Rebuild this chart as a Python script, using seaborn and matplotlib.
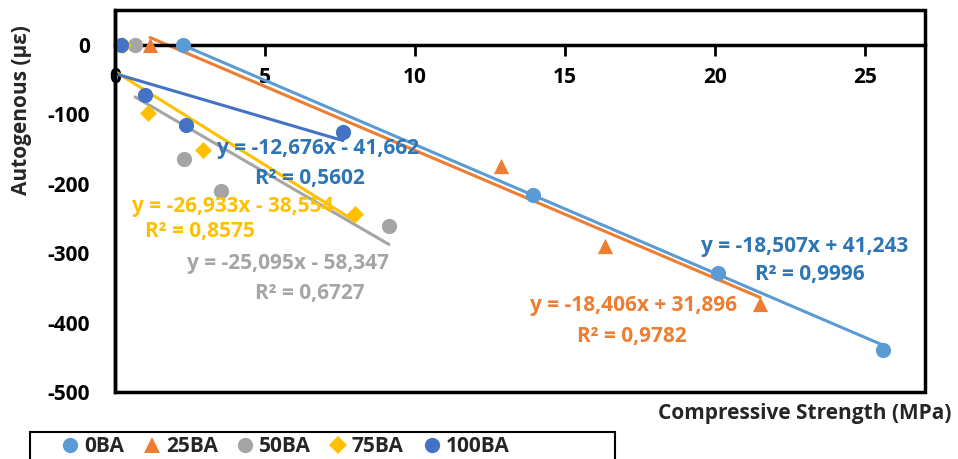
import numpy as np
import matplotlib
matplotlib.use("Agg")
import matplotlib.pyplot as plt
from matplotlib.patches import Rectangle
from matplotlib.lines import Line2D
import seaborn as sns
import pandas as pd

sns.set_theme(style="white")
plt.rcParams["font.family"] = ["Open Sans", "DejaVu Sans"]
plt.rcParams["font.weight"] = "bold"
plt.rcParams["axes.unicode_minus"] = False

# Compressive strength (MPa) and autogenous strain (µε) per mix
series_names = ["0BA", "25BA", "50BA", "75BA", "100BA"]
strength_0ba = [2.27, 13.93, 20.1, 25.6]
strain_0ba = [0, -217, -328, -440]
strength_25ba = [1.17, 12.87, 16.33, 21.5]
strain_25ba = [0, -174, -290, -374]
strength_50ba = [0.67, 2.3, 3.53, 9.13]
strain_50ba = [0, -164, -210, -261]
strength_75ba = [0.25, 1.1, 2.93, 8.0]
strain_75ba = [0, -98, -152, -243]
strength_100ba = [0.2, 1.0, 2.37, 7.6]
strain_100ba = [0, -73, -116, -125]

# Linear trendline coefficients (slope, intercept) and R²
slopes = [-18.507, -18.406, -25.095, -26.933, -12.676]
intercepts = [41.243, 31.896, -58.347, -38.554, -41.662]
r_squared = [0.9996, 0.9782, 0.6727, 0.8575, 0.5602]

xs = [strength_0ba, strength_25ba, strength_50ba, strength_75ba, strength_100ba]
ys = [strain_0ba, strain_25ba, strain_50ba, strain_75ba, strain_100ba]

colors = ["#5B9BD5", "#ED7D31", "#A5A5A5", "#FFC000", "#4472C4"]
text_colors = ["#2E75B6", "#ED7D31", "#A5A5A5", "#FFC000", "#2E75B6"]
markers = ["o", "^", "o", "D", "o"]
sizes = [120, 120, 120, 75, 120]
trend_x0 = [None, None, None, 0.07, 0.0]

# label anchor positions in data coords (equation line, R² line)
eq_pos = [(23.0, -290), (17.27, -376), (5.77, -315), (3.93, -233), (6.77, -149)]
r2_pos = [(23.17, -331), (17.23, -420), (6.5, -358), (2.83, -269), (6.5, -193)]

fig = plt.figure(figsize=(9.58, 4.59), dpi=100)
ax = fig.add_axes([115 / 958, 1 - 392 / 459, (925 - 115) / 958, (392 - 10) / 459])

df = pd.concat(
    [pd.DataFrame({"strength": x, "strain": y, "mix": n}) for x, y, n in zip(xs, ys, series_names)],
    ignore_index=True,
)

for i, name in enumerate(series_names):
    sub = df[df["mix"] == name]
    x0 = sub["strength"].min() if trend_x0[i] is None else trend_x0[i]
    x1 = sub["strength"].max()
    tx = np.array([x0, x1])
    sns.lineplot(x=tx, y=slopes[i] * tx + intercepts[i], ax=ax, color=colors[i],
                 linewidth=2.2, zorder=2, legend=False)

for i, name in enumerate(series_names):
    sub = df[df["mix"] == name]
    sns.scatterplot(data=sub, x="strength", y="strain", ax=ax, color=colors[i],
                    marker=markers[i], s=sizes[i], linewidth=0, zorder=3, legend=False)

def fmt(v, nd=3):
    return f"{abs(v):.{nd}f}".replace(".", ",")

FS = 15
for i in range(5):
    sign = "+" if intercepts[i] >= 0 else "-"
    eq = f"y = -{fmt(slopes[i])}x {sign} {fmt(intercepts[i])}"
    ax.text(*eq_pos[i], eq, color=text_colors[i], fontsize=FS, fontweight="bold",
            ha="center", va="center", zorder=4)
    ax.text(*r2_pos[i], f"R² = {fmt(r_squared[i], 4)}", color=text_colors[i], fontsize=FS,
            fontweight="bold", ha="center", va="center", zorder=4)

ax.set_xlim(0, 27)
ax.set_ylim(-500, 50)
ax.set_xticks([0, 5, 10, 15, 20, 25])
ax.set_yticks([0, -100, -200, -300, -400, -500])
ax.set_xlabel("")
ax.set_ylabel("")

for s in ["top", "right"]:
    ax.spines[s].set_visible(False)
ax.spines["bottom"].set_position(("data", 0))
ax.spines["bottom"].set_linewidth(2.5)
ax.spines["bottom"].set_color("black")
ax.spines["left"].set_linewidth(2.5)
ax.spines["left"].set_color("black")
ax.add_patch(Rectangle((0, 0), 1, 1, transform=ax.transAxes, fill=False,
                       edgecolor="black", linewidth=2.5, clip_on=False, zorder=5))

ax.tick_params(axis="x", direction="out", length=8, width=2, color="black",
               labelsize=FS, pad=8, bottom=True)
ax.tick_params(axis="y", length=0, labelsize=FS, pad=18)
for lab in ax.get_xticklabels() + ax.get_yticklabels():
    lab.set_fontweight("bold")
    lab.set_color("black")

fig.text(22 / 958, 1 - 110 / 459, "Autogenous (µε)", rotation=90, ha="center", va="center",
         fontsize=FS, fontweight="bold")
fig.text(952 / 958, 1 - 413 / 459, "Compressive Strength (MPa)", ha="right", va="center",
         fontsize=FS, fontweight="bold")

# legend: one entry per mix, spaced across a wide framed strip
legend_x = [60, 142, 235, 328, 422]
for i in range(5):
    h = Line2D([], [], linestyle="none", marker=markers[i], color=colors[i],
               markersize=(11 if markers[i] != "D" else 9), markeredgewidth=0)
    fig.legend([h], [series_names[i]], loc="center left",
               bbox_to_anchor=(legend_x[i] / 958, 1 - 447 / 459), frameon=False,
               handletextpad=0.15, handlelength=1.0, borderpad=0, borderaxespad=0,
               prop={"weight": "bold", "size": FS})
fig.patches.append(Rectangle((30 / 958, 1 - 475 / 459), 585 / 958, 43 / 459,
                             transform=fig.transFigure, fill=False, edgecolor="black",
                             linewidth=1.5))

fig.savefig("out.png", dpi=100)
